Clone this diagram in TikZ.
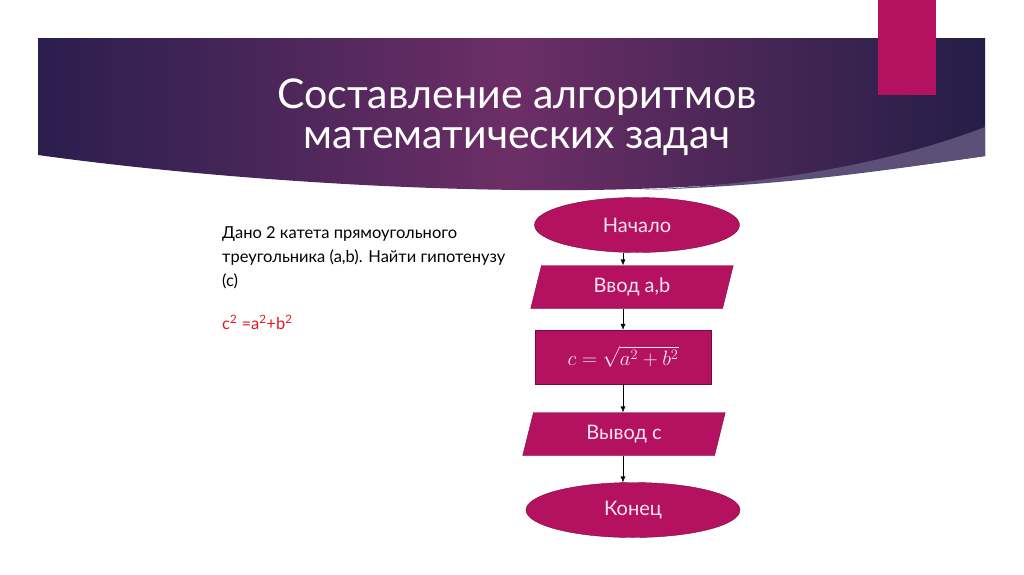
\documentclass[tikz,border=0pt]{standalone}
\usepackage{fontspec}
\setmainfont{Lato}
\usepackage{amsmath}
\usetikzlibrary{arrows.meta,positioning,shapes.geometric}
\definecolor{boxpink}{RGB}{180,18,96}
\definecolor{boxedge}{RGB}{118,10,58}
\definecolor{boxtext}{RGB}{252,228,242}
\definecolor{bannerdark}{RGB}{42,30,78}
\definecolor{bannermid}{RGB}{108,46,102}
\definecolor{bannerright}{RGB}{36,30,70}
\definecolor{bandlight}{RGB}{92,80,120}
\definecolor{formred}{RGB}{232,22,30}
\tikzset{terminal/.style={draw=boxedge,fill=boxpink,ellipse,text=boxtext,
        minimum width=205pt,minimum height=55pt,inner sep=0,font=\fontsize{20}{20}\selectfont},
    iobox/.style={draw=boxedge,fill=boxpink,trapezium,trapezium left angle=76,
        trapezium right angle=104,text=boxtext,minimum width=160pt,minimum height=43pt,
        inner sep=0,font=\fontsize{20}{20}\selectfont},
    actionbox/.style={draw=boxedge,fill=boxpink,rectangle,text=boxtext,
        minimum width=176pt,minimum height=54pt,inner sep=0,font=\fontsize{22}{22}\selectfont},
    flowarrow/.style={-{Latex[length=6pt,width=5pt]},black,thin}
}
\begin{document}
\begin{tikzpicture}[x=1pt,y=-1pt]

\useasboundingbox [fill=white] (0,0) rectangle (1024,574);

% banner
\shade [left color=bannerdark,right color=bannerright,middle color=bannermid]
  (38,38) -- (985,38) -- (985,156)
  .. controls (820,180) and (680,192) .. (520,190)
  .. controls (340,188) and (160,172) .. (38,155) -- cycle;
\fill [bandlight] (985,127) .. controls (900,160) and (780,184) .. (640,190)
  .. controls (790,186) and (900,168) .. (985,156) -- cycle;
\fill [boxpink] (878,0) rectangle (936,95);

\node (title) [text=white,align=center,font=\fontsize{41}{40}\selectfont] at (517,117)
  {Составление алгоритмов\\математических задач};

% task
\node (task) [anchor=north west,align=left,inner sep=0,
  font=\fontsize{16.5}{24}\selectfont] at (222,226)
  {Дано 2 катета прямоугольного\\треугольника (a,b). Найти гипотенузу\\(c)};
\node (rule) [anchor=north west,inner sep=0,text=formred,
  font=\fontsize{16.5}{24}\selectfont] at (222,315)
  {c\textsuperscript{2} =a\textsuperscript{2}+b\textsuperscript{2}};

% flowchart
\node (start) [terminal] at (637,225) {Начало};
\node (input) [iobox] at (632,287) {Ввод a,b};
\node (calc) [actionbox] at (623,357) {$c=\sqrt{a^2+b^2}$};
\node (output) [iobox] at (624,434) {Вывод c};
\node (stop) [terminal,minimum width=214pt] at (633,510) {Конец};

\draw [flowarrow] (calc.north |- start.south) -- (calc.north |- input.north);
\draw [flowarrow] (calc.north |- input.south) -- (calc.north);
\draw [flowarrow] (calc.south) -- (calc.south |- output.north);
\draw [flowarrow] (calc.south |- output.south) -- (calc.south |- stop.north);

\end{tikzpicture}
\end{document}
